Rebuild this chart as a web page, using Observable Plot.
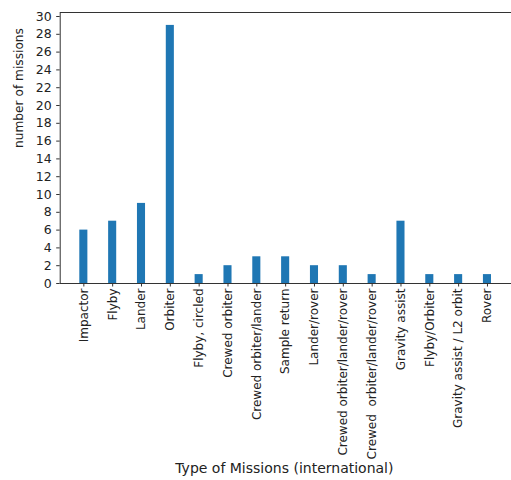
<!DOCTYPE html>
<html>
<head>
<meta charset="utf-8">
<script src="https://cdn.jsdelivr.net/npm/d3@7"></script>
<script src="https://cdn.jsdelivr.net/npm/@observablehq/plot@0.6"></script>
<style>
  html, body { margin: 0; padding: 0; background: white; }
</style>
</head>
<body>
<div id="chart"></div>
<script>
const categories = [
  "Impactor", "Flyby", "Lander", "Orbiter", "Flyby, circled", "Crewed orbiter",
  "Crewed orbiter/lander", "Sample return", "Lander/rover",
  "Crewed orbiter/lander/rover", "Crewed  orbiter/lander/rover",
  "Gravity assist", "Flyby/Orbiter", "Gravity assist / L2 orbit", "Rover"
];
const counts = [6, 7, 9, 29, 1, 2, 3, 3, 2, 2, 1, 7, 1, 1, 1];
const yTicks = [0, 2, 4, 6, 8, 10, 12, 14, 16, 18, 20, 22, 24, 26, 28, 30];
const xLabel = "Type of Missions (international)";
const yLabel = "number of missions";

const data = categories.map((c, i) => ({type: c, n: counts[i]}));

const chart = Plot.plot({
  width: 511,
  height: 480,
  marginTop: 12,
  marginBottom: 197,
  marginLeft: 59.7,
  marginRight: -1,
  style: {fontFamily: "DejaVu Sans", color: "#222", background: "white", overflow: "visible"},
  x: {domain: categories, insetLeft: 19.6, insetRight: 21, paddingInner: 0.72, paddingOuter: 0, round: false},
  y: {domain: [0, 30.45]},
  marks: [
    Plot.barY(data, {x: "type", y: "n", fill: "#1f77b4"}),
    Plot.frame({stroke: "#333", strokeWidth: 1}),
    Plot.axisY({ticks: yTicks, tickSize: 3.5, tickPadding: 5, fontSize: 12.5, label: null, stroke: "#333"}),
    Plot.axisX({tickRotate: -90, tickSize: 3.5, tickPadding: 1.5, fontSize: 12, label: null, stroke: "#333"}),
    Plot.text([xLabel], {frameAnchor: "bottom", dx: -2, dy: 189.5, fontSize: 14, fill: "#222"}),
    Plot.text([yLabel], {frameAnchor: "left", rotate: -90, dx: -40.7, fontSize: 12.2, fill: "#222"})
  ]
});
document.getElementById("chart").appendChild(chart);
</script>
</body>
</html>
